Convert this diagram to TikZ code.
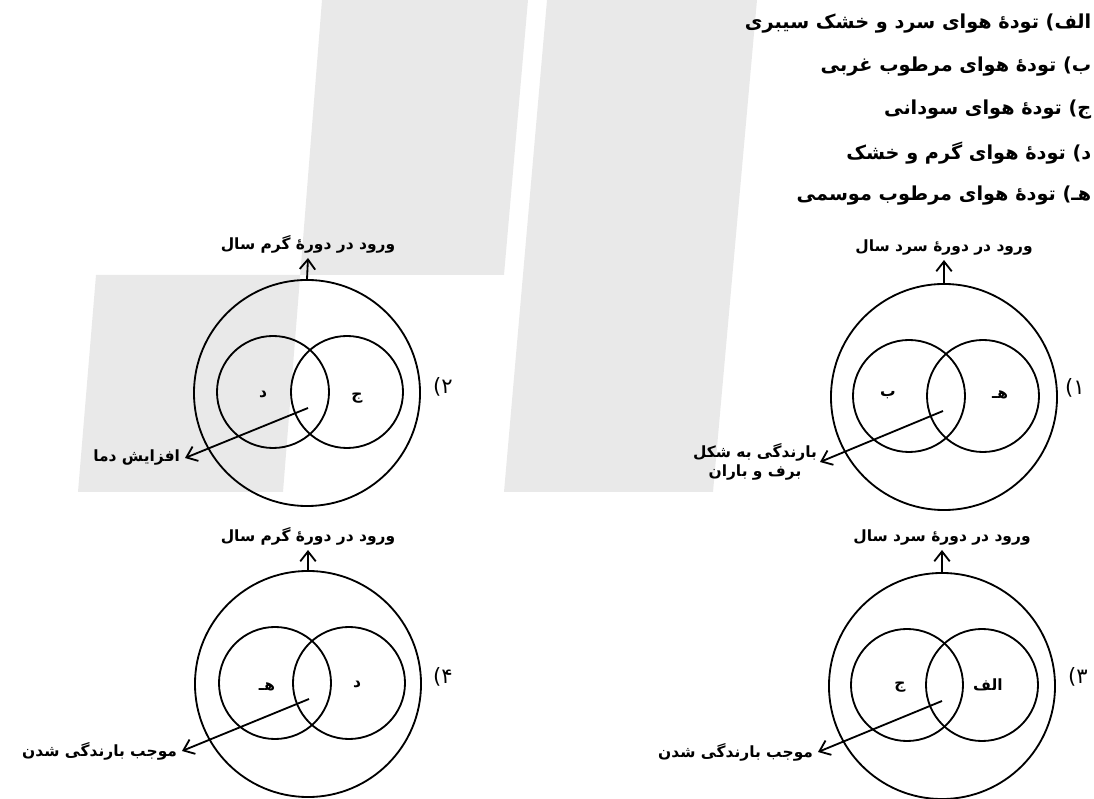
\documentclass[tikz,border=0pt]{standalone}
\usepackage{fontspec}
\newfontfamily\fa[Script=Arabic]{DejaVu Sans}
\TeXXeTstate=1
\usepackage{tikz}
\usetikzlibrary{arrows.meta}
\usepackage{xcolor}
\definecolor{wmark}{RGB}{233,233,233}

\begin{document}
\begin{tikzpicture}[x=0.025cm,y=-0.025cm,every node/.style={font=\fa\bfseries\fontsize{11}{14}\selectfont},
  big/.style={circle,draw,line width=1.3pt,minimum size=5.65cm,inner sep=0pt},
  small/.style={circle,draw,line width=1.3pt,minimum size=2.8cm,inner sep=0pt},
  arr/.style={line width=1.3pt,-{Straight Barb[length=7pt,width=11pt]}},
  key/.style={anchor=east,inner sep=1pt,font=\fa\bfseries\fontsize{13.7}{16}\selectfont},
  num/.style={font=\fa\fontsize{15}{18}\selectfont}]
\useasboundingbox (0,0) rectangle (1094,799);
\fill[wmark] (322,0) -- (528,0) -- (504,275) -- (96,275) -- (78,492) -- (283,492) -- cycle;
\fill[wmark] (547,0) -- (757,0) -- (713,492) -- (504,492) -- cycle;
\node[key] (l1) at (1093,24) {\beginR الف) تودهٔ هوای سرد و خشک سیبری\endR};
\node[key] (l2) at (1093,67) {\beginR ب) تودهٔ هوای مرطوب غربی\endR};
\node[key] (l3) at (1093,110) {\beginR ج) تودهٔ هوای سودانی\endR};
\node[key] (l4) at (1093,153) {\beginR د) تودهٔ هوای گرم و خشک\endR};
\node[key] (l5) at (1093,196) {\beginR هـ) تودهٔ هوای مرطوب موسمی\endR};
\node[big] (o1) at (944,397) {};
\node[small] (c1a) at (909,396) {};
\node[small] (c1b) at (983,396) {};
\node (m1a) at (888,395) {\beginR ب\endR};
\node (m1b) at (1000,395) {\beginR هـ\endR};
\node[num] (n1) at (1075,388) {۱)};
\node[anchor=south,inner sep=3pt] (t1) at (944,260) {\beginR ورود در دورهٔ سرد سال\endR};
\draw[arr] (o1.north) -- (t1.south);
\coordinate (p1) at (943,411);
\node[anchor=east,align=center,inner sep=2pt] (b1) at (820,462) {\beginR بارندگی به شکل\endR\\\beginR برف و باران\endR};
\draw[arr] (p1) -- (b1.east);
\node[big] (o2) at (307,393) {};
\node[small] (c2a) at (273,392) {};
\node[small] (c2b) at (347,392) {};
\node (m2a) at (263,395) {\beginR د\endR};
\node (m2b) at (357,398) {\beginR ج\endR};
\node[num] (n2) at (443,387) {۲)};
\node[anchor=south,inner sep=3pt] (t2) at (308,258) {\beginR ورود در دورهٔ گرم سال\endR};
\draw[arr] (o2.north) -- (t2.south);
\coordinate (p2) at (308,408);
\node[anchor=east] (b2) at (185,458) {\beginR افزایش دما\endR};
\draw[arr] (p2) -- (b2.east);
\node[big] (o3) at (942,686) {};
\node[small] (c3a) at (907,685) {};
\node[small] (c3b) at (982,685) {};
\node (m3a) at (900,687) {\beginR ج\endR};
\node (m3b) at (988,685) {\beginR الف\endR};
\node[num] (n3) at (1078,677) {۳)};
\node[anchor=south,inner sep=3pt] (t3) at (942,550) {\beginR ورود در دورهٔ سرد سال\endR};
\draw[arr] (o3.north) -- (t3.south);
\coordinate (p3) at (942,701);
\node[anchor=east] (b3) at (818,752) {\beginR موجب بارندگی شدن\endR};
\draw[arr] (p3) -- (b3.east);
\node[big] (o4) at (308,684) {};
\node[small] (c4a) at (275,683) {};
\node[small] (c4b) at (349,683) {};
\node (m4a) at (267,687) {\beginR هـ\endR};
\node (m4b) at (357,685) {\beginR د\endR};
\node[num] (n4) at (443,677) {۴)};
\node[anchor=south,inner sep=3pt] (t4) at (308,550) {\beginR ورود در دورهٔ گرم سال\endR};
\draw[arr] (o4.north) -- (t4.south);
\coordinate (p4) at (309,699);
\node[anchor=east] (b4) at (182,751) {\beginR موجب بارندگی شدن\endR};
\draw[arr] (p4) -- (b4.east);
\end{tikzpicture}
\end{document}
